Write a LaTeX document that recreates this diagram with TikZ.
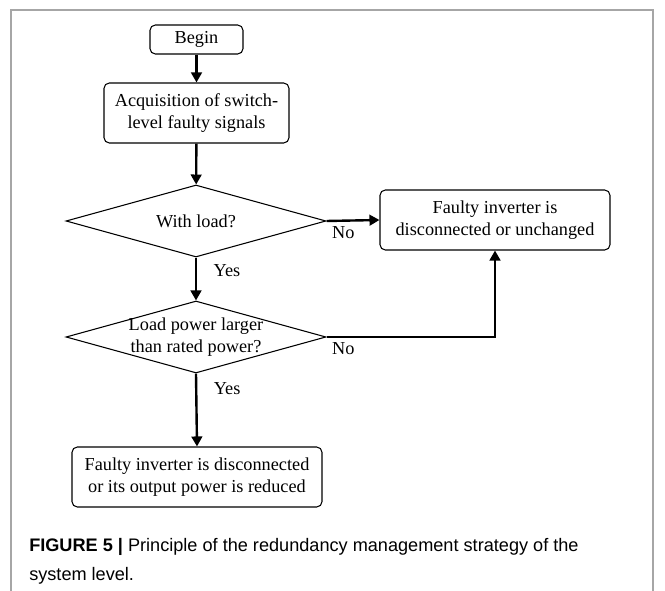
\documentclass[tikz,border=0pt]{standalone}
\usepackage{fontspec}
\setmainfont{Liberation Serif}
\newfontfamily\capfont{Liberation Sans}
\usetikzlibrary{arrows.meta,positioning,shapes.geometric}
\newcommand\flowfont{\fontsize{13.7}{16}\selectfont}

\begin{document}
\begin{tikzpicture}[x=0.75pt,y=-0.75pt,
  box/.style={draw, rounded corners=4pt, line width=0.8pt, font=\flowfont, align=center, inner sep=0pt},
  decision/.style={draw, diamond, line width=0.8pt, inner sep=0pt, minimum width=195pt, minimum height=54pt},
  flow/.style={-{Triangle[length=7.5pt,width=8pt]}, line width=1.8pt},
  lab/.style={font=\flowfont}]
  \useasboundingbox (0,0) rectangle (665,591);

  % outer frame
  \draw[black!35, line width=1.5pt] (11,591) -- (11,10) -- (653,10) -- (653,591);

  % Flow nodes
  \node[box, minimum width=69.75pt, minimum height=21.75pt] (begin) at (196.5,39.5) {Begin};
  \node[box, minimum width=138.75pt, minimum height=45pt] (acquire) at (196.5,113) {Acquisition of switch-\\level faulty signals};
  \node[decision, label={[lab]center:With load?}] (withload) at (196,221) {};
  \node[decision, label={[lab, align=center]center:Load power larger\\than rated power?}] (overload) at (196,337) {};
  \node[box, minimum width=172.5pt, minimum height=45pt] (unchanged) at (495,220) {Faulty inverter is\\disconnected or unchanged};
  \node[box, minimum width=187.5pt, minimum height=45pt] (reduced) at (197,477) {Faulty inverter is disconnected\\or its output power is reduced};

  % Connectors
  \draw[flow] (begin) -- (acquire);
  \draw[flow] (acquire) -- (withload);
  \draw[flow] (withload.east) -- node[lab, pos=0, below right] {No} (unchanged.west);
  \draw[flow] (withload.south) -- node[lab, pos=0.3, right=9pt] {Yes} (overload.north);
  \draw[flow] (overload.east) -| node[lab, pos=0, below right] {No} (unchanged.south);
  \draw[flow] (overload.south) -- node[lab, pos=0.2, right=9pt] {Yes} (reduced.north);

  % Caption
  \node[anchor=north west, font=\capfont\fontsize{13.6}{21.75}\selectfont, align=left, inner sep=0pt] (caption) at (29,538) {\textbf{FIGURE 5 |} Principle of the redundancy management strategy of the\\system level.};
\end{tikzpicture}
\end{document}
